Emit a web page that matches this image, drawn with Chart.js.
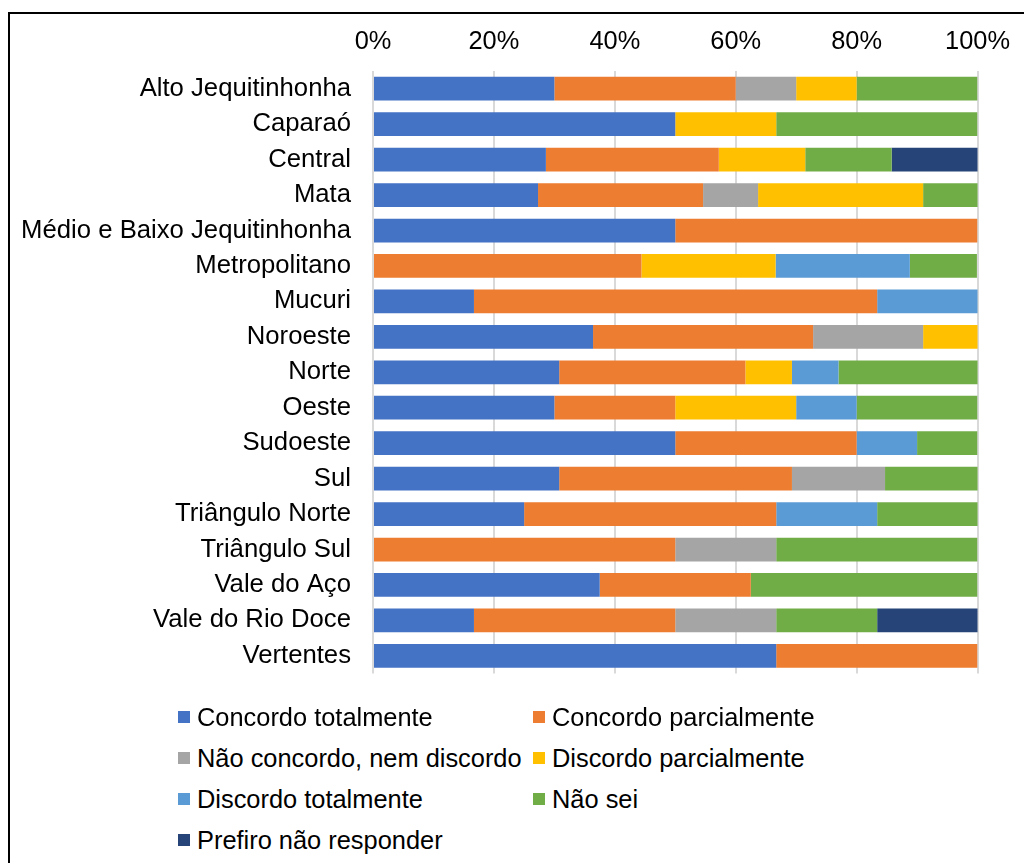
<!DOCTYPE html>
<html lang="pt">
<head>
<meta charset="utf-8">
<title>Respostas por região</title>
<script src="https://cdn.jsdelivr.net/npm/chart.js@4"></script>
<style>
  html, body { margin: 0; padding: 0; background: #fff; overflow: hidden; }
  body { width: 1024px; height: 863px; position: relative; font-family: "Liberation Sans", Arial, sans-serif; }
  #frame { position: absolute; left: 8px; top: 12px; width: 1060px; height: 900px; border-left: 2px solid #000; border-top: 2px solid #000; }
  #chartBox { position: absolute; left: 0; top: 0; width: 1024px; height: 711px; }
  .legend-item { position: absolute; display: flex; align-items: center; font-size: 25.4px; line-height: 30px; color: #000; white-space: nowrap; }
  .legend-box { width: 12px; height: 12px; margin-right: 7px; }
</style>
</head>
<body>
<div id="frame"></div>
<div id="chartBox"><canvas id="chart"></canvas></div>
<div id="legend"></div>
<script>
const regions = [
  "Alto Jequitinhonha", "Caparaó", "Central", "Mata", "Médio e Baixo Jequitinhonha",
  "Metropolitano", "Mucuri", "Noroeste", "Norte", "Oeste", "Sudoeste", "Sul",
  "Triângulo Norte", "Triângulo Sul", "Vale do Aço", "Vale do Rio Doce", "Vertentes"
];

// percentuais (cada linha soma ~100)
const concordoTotalmente = [30, 50, 28.6, 27.3, 50, 0, 16.7, 36.4, 30.8, 30, 50, 30.8, 25, 0, 37.5, 16.7, 66.7];
const concordoParcialmente = [30, 0, 28.6, 27.3, 50, 44.4, 66.7, 36.4, 30.8, 20, 30, 38.5, 41.7, 50, 25, 33.3, 33.3];
const naoConcordoNemDiscordo = [10, 0, 0, 9.1, 0, 0, 0, 18.2, 0, 0, 0, 15.4, 0, 16.7, 0, 16.7, 0];
const discordoParcialmente = [10, 16.7, 14.3, 27.3, 0, 22.2, 0, 9.1, 7.7, 20, 0, 0, 0, 0, 0, 0, 0];
const discordoTotalmente = [0, 0, 0, 0, 0, 22.2, 16.7, 0, 7.7, 10, 10, 0, 16.7, 0, 0, 0, 0];
const naoSei = [20, 33.3, 14.3, 9.1, 0, 11.1, 0, 0, 23.1, 20, 10, 15.4, 16.7, 33.3, 37.5, 16.7, 0];
const prefiroNaoResponder = [0, 0, 14.3, 0, 0, 0, 0, 0, 0, 0, 0, 0, 0, 0, 0, 16.7, 0];

const xTicks = [0, 20, 40, 60, 80, 100];

const series = [
  { label: "Concordo totalmente", data: concordoTotalmente, color: "#4472C4" },
  { label: "Concordo parcialmente", data: concordoParcialmente, color: "#ED7D31" },
  { label: "Não concordo, nem discordo", data: naoConcordoNemDiscordo, color: "#A5A5A5" },
  { label: "Discordo parcialmente", data: discordoParcialmente, color: "#FFC000" },
  { label: "Discordo totalmente", data: discordoTotalmente, color: "#5B9BD5" },
  { label: "Não sei", data: naoSei, color: "#70AD47" },
  { label: "Prefiro não responder", data: prefiroNaoResponder, color: "#264478" }
];

Chart.defaults.font.family = '"Liberation Sans", Arial, sans-serif';
Chart.defaults.font.size = 25.4;
Chart.defaults.color = "#000";

function buildDatasets() {
  return series.map((s) => ({
    label: s.label,
    data: s.data,
    backgroundColor: s.color,
    borderWidth: 0,
    barPercentage: 0.67,
    categoryPercentage: 1.0
  }));
}

function loadLegend() {
  const legendElement = document.getElementById("legend");
  series.forEach((s, i) => {
    const item = document.createElement("div");
    item.className = "legend-item";
    const col = i % 2;
    const row = Math.floor(i / 2);
    item.style.left = (col === 0 ? 178 : 533) + "px";
    item.style.top = (717 + row * 41 - 15) + "px";
    const box = document.createElement("span");
    box.className = "legend-box";
    box.style.background = s.color;
    const text = document.createElement("span");
    text.textContent = s.label;
    item.appendChild(box);
    item.appendChild(text);
    legendElement.appendChild(item);
  });
}

function loadChart() {
  const ctx = document.getElementById("chart");
  new Chart(ctx, {
    type: "bar",
    data: {
      labels: regions,
      datasets: buildDatasets()
    },
    options: {
      indexAxis: "y",
      responsive: true,
      maintainAspectRatio: false,
      animation: false,
      layout: { padding: { left: 0, right: 45, top: 0, bottom: 27 } },
      plugins: {
        legend: { display: false },
        tooltip: { enabled: false }
      },
      scales: {
        x: {
          position: "top",
          stacked: true,
          min: 0,
          max: 100,
          afterBuildTicks: (scale) => {
            scale.ticks = xTicks.map((v) => ({ value: v }));
          },
          ticks: {
            padding: 14,
            callback: (v) => v + "%"
          },
          grid: { color: "#D9D9D9", lineWidth: 2, drawTicks: false },
          border: { display: false },
          afterFit: (scale) => {
            scale.height = 71;
          }
        },
        y: {
          stacked: true,
          ticks: { padding: 22, autoSkip: false, font: { size: 25.7 } },
          grid: { display: false, drawTicks: false },
          border: { display: false },
          afterFit: (scale) => {
            scale.width = 373;
          }
        }
      }
    }
  });
}

(() => {
  loadChart();
  loadLegend();
})();
</script>
</body>
</html>
